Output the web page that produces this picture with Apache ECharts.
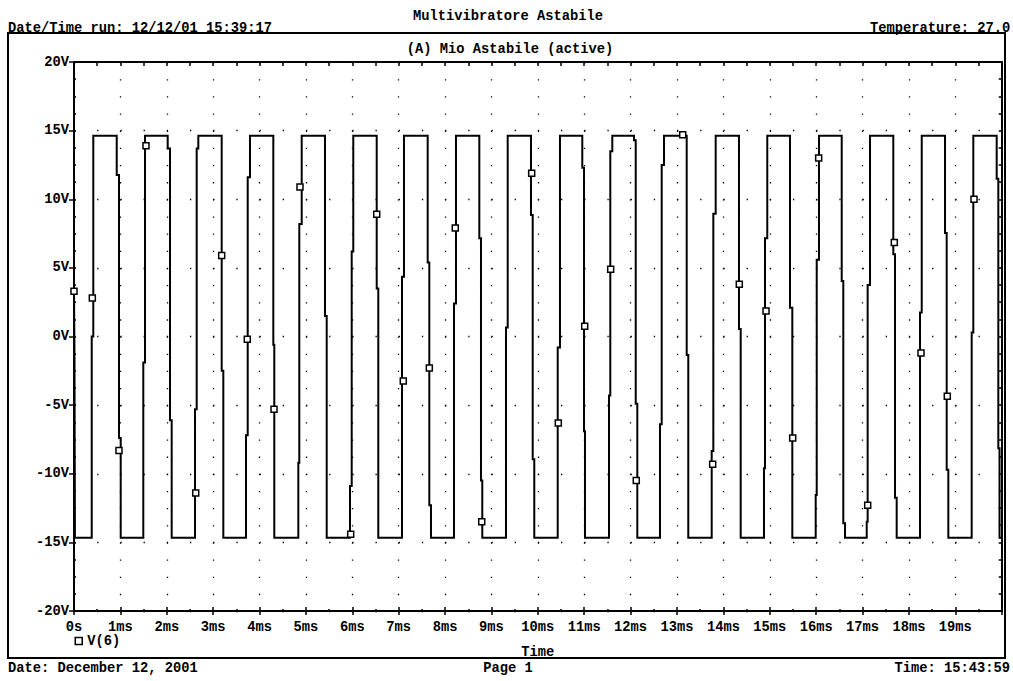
<!DOCTYPE html>
<html>
<head>
<meta charset="utf-8">
<title>Multivibratore Astabile</title>
<script src="https://cdn.jsdelivr.net/npm/echarts/dist/echarts.min.js"></script>
<style>
  html, body { margin: 0; padding: 0; background: #fff; }
  #chart { width: 1013px; height: 681px; }
</style>
</head>
<body>
<div id="chart"></div>
<script>
// ---- Data ----
// Trace V(6): [time in ms, volts]
const waveV6 = [
  [0,3.3],[0.01,-1.1],[0.02,-14.66],
  [0.382,-14.66],[0.382,0],[0.416,0],[0.416,14.62],
  [0.921,14.62],[0.921,11.76],[0.970,11.76],[0.970,-7.4],[1.007,-7.4],[1.007,-14.66],
  [1.494,-14.66],[1.494,-1.9],[1.531,-1.9],[1.531,14.62],
  [2.020,14.62],[2.020,13.7],[2.070,13.7],[2.070,-6.1],[2.106,-6.1],[2.106,-14.66],
  [2.609,-14.66],[2.609,-5.3],[2.645,-5.3],[2.645,13.7],[2.680,13.7],[2.680,14.62],
  [3.184,14.62],[3.184,-2.5],[3.219,-2.5],[3.219,-14.66],
  [3.708,-14.66],[3.708,-7.2],[3.745,-7.2],[3.745,11.6],[3.794,11.6],[3.794,14.62],
  [4.297,14.62],[4.297,-0.6],[4.318,-0.6],[4.318,-14.66],
  [4.836,-14.66],[4.836,-9.2],[4.857,-9.2],[4.857,8.2],[4.909,8.2],[4.909,14.62],
  [5.411,14.62],[5.411,1.5],[5.448,1.5],[5.448,-14.66],
  [5.950,-14.66],[5.950,-10.9],[5.987,-10.9],[5.987,6.2],[6.021,6.2],[6.021,14.62],
  [6.526,14.62],[6.526,3.5],[6.560,3.5],[6.560,-14.66],
  [7.071,-14.66],[7.071,4.35],[7.114,4.35],[7.114,14.62],
  [7.625,14.62],[7.625,5.4],[7.660,5.4],[7.660,-12.3],[7.696,-12.3],[7.696,-14.66],
  [8.192,-14.66],[8.192,2.4],[8.235,2.4],[8.235,14.62],
  [8.738,14.62],[8.738,7.15],[8.774,7.15],[8.774,-10.5],[8.802,-10.5],[8.802,-14.66],
  [9.313,-14.66],[9.313,0.65],[9.350,0.65],[9.350,14.62],
  [9.852,14.62],[9.852,8.85],[9.889,8.85],[9.889,-8.95],[9.923,-8.95],[9.923,-14.66],
  [10.428,-14.66],[10.428,-0.8],[10.477,-0.8],[10.477,14.62],
  [10.958,14.62],[10.958,12.3],[10.995,12.3],[10.995,-6.9],[11.016,-6.9],[11.016,-14.66],
  [11.534,-14.66],[11.534,-4.3],[11.562,-4.3],[11.562,13.5],[11.605,13.5],[11.605,14.62],
  [12.073,14.62],[12.073,14.3],[12.110,14.3],[12.110,-4.9],[12.144,-4.9],[12.144,-14.66],
  [12.633,-14.66],[12.633,-6.4],[12.670,-6.4],[12.670,12.5],[12.720,12.5],[12.720,14.62],
  [13.209,14.62],[13.209,-1.35],[13.243,-1.35],[13.243,-14.66],
  [13.748,-14.66],[13.748,-8.35],[13.783,-8.35],[13.783,8.95],[13.834,8.95],[13.834,14.62],
  [14.336,14.62],[14.336,0.55],[14.373,0.55],[14.373,-14.66],
  [14.875,-14.66],[14.875,-9.6],[14.897,-9.6],[14.897,7.15],[14.946,7.15],[14.946,14.62],
  [15.436,14.62],[15.436,2.1],[15.486,2.1],[15.486,-14.66],
  [15.990,-14.66],[15.990,-11.55],[16.012,-11.55],[16.012,5.6],[16.061,5.6],[16.061,14.62],
  [16.551,14.62],[16.551,4.05],[16.585,4.05],[16.585,-13.6],[16.622,-13.6],[16.622,-14.66],
  [17.090,-14.66],[17.090,-13.5],[17.110,-13.5],[17.110,3.75],[17.161,3.75],[17.161,14.62],
  [17.663,14.62],[17.663,6.0],[17.700,6.0],[17.700,-11.75],[17.736,-11.75],[17.736,-14.66],
  [18.239,-14.66],[18.239,1.75],[18.276,1.75],[18.276,14.62],
  [18.778,14.62],[18.778,7.55],[18.814,7.55],[18.814,-9.7],[18.849,-9.7],[18.849,-14.66],
  [19.353,-14.66],[19.353,0.3],[19.388,0.3],[19.388,14.62],
  [19.892,14.62],[19.892,11.5],[19.927,11.5],[19.927,-8.15],[19.953,-8.15],[19.953,-14.66],[20,-14.66]
];

// Marker squares on the V(6) trace
const markerTime = [0, 0.395, 0.970, 1.552, 2.624, 3.184, 3.736, 4.312, 4.872, 5.965,
  6.526, 7.099, 7.660, 8.220, 8.790, 9.867, 10.441, 11.010, 11.570, 12.122,
  13.123, 13.769, 14.343, 14.919, 15.494, 16.054, 17.111, 17.685, 18.260, 18.827, 19.403];
const markerVolt = [3.3, 2.8, -8.3, 13.9, -11.4, 5.9, -0.2, -5.3, 10.9, -14.4,
  8.9, -3.25, -2.3, 7.9, -13.5, 11.9, -6.3, 0.75, 4.9, -10.5,
  14.7, -9.3, 3.8, 1.85, -7.4, 13.0, -12.3, 6.85, -1.2, -4.35, 10.0];

// Tick labels
const xTickLabels = ['0s','1ms','2ms','3ms','4ms','5ms','6ms','7ms','8ms','9ms','10ms',
  '11ms','12ms','13ms','14ms','15ms','16ms','17ms','18ms','19ms',''];
const yTickLabels = ['-20V','-15V','-10V','-5V','0V','5V','10V','15V','20V'];

// Texts
const chartTitle = 'Multivibratore Astabile';
const chartSubtitle = '(A) Mio Astabile (active)';
const runInfo = 'Date/Time run: 12/12/01 15:39:17';
const tempInfo = 'Temperature: 27.0';
const footDate = 'Date: December 12, 2001';
const footPage = 'Page 1';
const footTime = 'Time: 15:43:59';
const seriesName = 'V(6)';
const xAxisName = 'Time';

// ---- Layout ----
const FAM = '"Liberation Mono", "Courier New", monospace';
const FS = 13.75;
const FONT = 'bold ' + FS + 'px ' + FAM;
const G = { left: 74, top: 62, width: 927.7, height: 549 };
const yStepPx = G.height / 32;        // 1.25 V spacing
const xHalfPx = G.width / 40;         // 0.5 ms spacing
const DOT = 1.3;

const txt = (x, y, text, align) => ({
  type: 'text', x: x, y: y, z: 50,
  style: { text: text, font: FONT, fill: '#000', align: align || 'left', verticalAlign: 'middle' }
});

const chart = echarts.init(document.getElementById('chart'), null, { renderer: 'svg' });

const labelStyle = { color: '#000', fontFamily: FAM, fontSize: FS, fontWeight: 'bold' };

chart.setOption({
  animation: false,
  backgroundColor: '#fff',
  grid: { left: G.left, top: G.top, width: G.width, height: G.height, containLabel: false, outerBoundsMode: 'none' },
  legend: {
    data: [{ name: seriesName, icon: 'rect' }],
    left: 74.5, top: 634, padding: 0,
    itemWidth: 7, itemHeight: 7,
    itemStyle: { color: '#fff', borderColor: '#000', borderWidth: 1.5 },
    textStyle: labelStyle,
    selectedMode: false
  },
  xAxis: [
    {
      type: 'value', min: 0, max: 20, interval: 1, position: 'bottom',
      name: xAxisName, nameLocation: 'middle', nameGap: 35,
      nameTextStyle: Object.assign({}, labelStyle, { lineHeight: 12 }),
      axisLine: { show: true, onZero: false, lineStyle: { color: '#000', width: 2 } },
      axisTick: { show: true, inside: false, length: 4, lineStyle: { color: '#000', width: 1.5 } },
      axisLabel: { margin: 9, ...labelStyle, formatter: v => xTickLabels[Math.round(v)] },
      splitLine: { show: true, lineStyle: { color: '#000', width: DOT, type: [DOT, yStepPx - DOT] } }
    },
    {
      type: 'value', min: 0, max: 20, interval: 1, position: 'bottom',
      axisLine: { show: false, onZero: false },
      axisTick: { show: true, inside: true, length: 4, lineStyle: { color: '#000', width: 1.5 } },
      minorTick: { show: true, splitNumber: 2, length: 2, lineStyle: { color: '#000', width: 1.5 } },
      axisLabel: { show: false }, splitLine: { show: false }
    },
    {
      type: 'value', min: 0, max: 20, interval: 1, position: 'top',
      axisLine: { show: true, onZero: false, lineStyle: { color: '#000', width: 2 } },
      axisTick: { show: true, inside: true, length: 4, lineStyle: { color: '#000', width: 1.5 } },
      minorTick: { show: true, splitNumber: 2, length: 4, lineStyle: { color: '#000', width: 1.5 } },
      axisLabel: { show: false }, splitLine: { show: false }
    }
  ],
  yAxis: [
    {
      type: 'value', min: -20, max: 20, interval: 5, position: 'left',
      axisLine: { show: true, onZero: false, lineStyle: { color: '#000', width: 2 } },
      axisTick: { show: true, inside: false, length: 5, lineStyle: { color: '#000', width: 1.5 } },
      axisLabel: { margin: 5, ...labelStyle, formatter: v => yTickLabels[Math.round((v + 20) / 5)] },
      splitLine: { show: true, lineStyle: { color: '#000', width: DOT, type: [DOT, xHalfPx - DOT] } }
    },
    {
      type: 'value', min: -20, max: 20, interval: 5, position: 'left',
      axisLine: { show: false, onZero: false },
      axisTick: { show: true, inside: true, length: 2, lineStyle: { color: '#000', width: 1.5 } },
      minorTick: { show: true, splitNumber: 4, length: 2, lineStyle: { color: '#000', width: 1.5 } },
      axisLabel: { show: false }, splitLine: { show: false }
    },
    {
      type: 'value', min: -20, max: 20, interval: 5, position: 'right',
      axisLine: { show: true, onZero: false, lineStyle: { color: '#000', width: 2 } },
      axisTick: { show: true, inside: true, length: 3, lineStyle: { color: '#000', width: 1.5 } },
      minorTick: { show: true, splitNumber: 4, length: 3, lineStyle: { color: '#000', width: 1.5 } },
      axisLabel: { show: false }, splitLine: { show: false }
    }
  ],
  series: [
    {
      name: seriesName + ' trace', type: 'line', xAxisIndex: 0, yAxisIndex: 0,
      data: waveV6, showSymbol: false, symbol: 'none',
      lineStyle: { color: '#000', width: 2, join: 'miter' },
      z: 3
    },
    {
      name: seriesName, type: 'scatter', xAxisIndex: 0, yAxisIndex: 0,
      data: markerTime.map((t, i) => [t, markerVolt[i]]),
      symbol: 'rect', symbolSize: 6,
      itemStyle: { color: '#fff', borderColor: '#000', borderWidth: 1.5, opacity: 1 },
      z: 4
    }
  ],
  graphic: [
    { type: 'rect', z: 100, shape: { x: 8, y: 33, width: 997, height: 625 },
      style: { fill: 'none', stroke: '#000', lineWidth: 2 } },
    txt(508, 16, chartTitle, 'center'),
    txt(8, 28, runInfo, 'left'),
    txt(870, 28, tempInfo, 'left'),
    txt(510, 49, chartSubtitle, 'center'),
    txt(8, 668, footDate, 'left'),
    txt(508, 668, footPage, 'center'),
    txt(1010, 668, footTime, 'right')
  ]
});
</script>
</body>
</html>
